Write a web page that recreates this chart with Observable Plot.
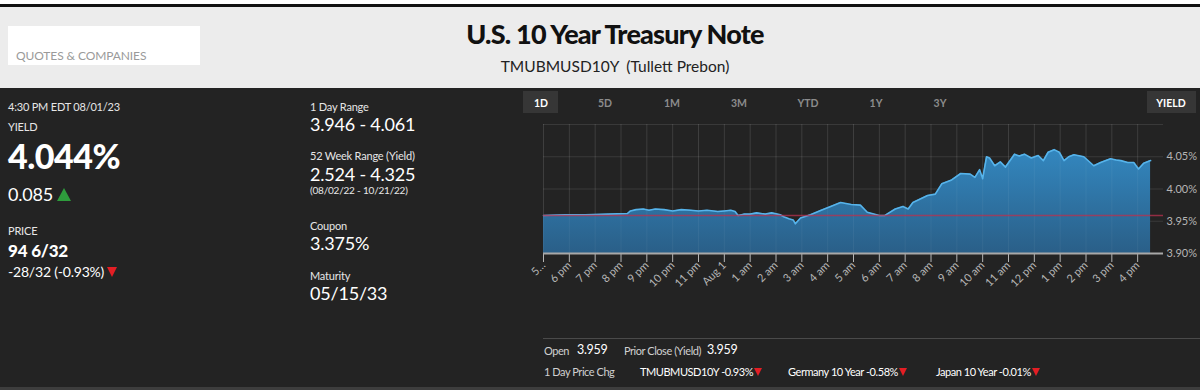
<!DOCTYPE html>
<html>
<head>
<meta charset="utf-8">
<script src="https://cdn.jsdelivr.net/npm/d3@7"></script>
<script src="https://cdn.jsdelivr.net/npm/@observablehq/plot@0.6"></script>
<style>
  html, body { margin: 0; padding: 0; }
  body { width: 1200px; height: 390px; position: relative; overflow: hidden; background: #ececec; font-family: Lato, "Noto Sans", sans-serif; }
  .abs { position: absolute; line-height: 1; white-space: nowrap; }
  #topwhite { left: 0; top: 0; width: 1200px; height: 4px; background: #fff; }
  #topblack { left: 0; top: 4px; width: 1200px; height: 3px; background: #111; }
  #qbox { left: 8px; top: 26px; width: 192px; height: 39px; background: #fff; }
  #qtext { left: 16px; top: 50px; font-size: 12px; color: #9a9a9a; letter-spacing: -0.1px; }
  #title { left: 615px; top: 20px; transform: translateX(-50%); font-size: 27px; font-weight: 900; color: #111; letter-spacing: -0.8px; }
  #subtitle { left: 615px; top: 59px; transform: translateX(-50%); font-size: 15.5px; color: #222; }
  #dark { left: 0; top: 88px; width: 1200px; height: 302px; background: #232323; }
  .lbl { font-size: 11px; color: #e6e6e6; letter-spacing: -0.2px; }
  .val { color: #fff; letter-spacing: -0.2px; }
  .btn { font-size: 10.5px; font-weight: 700; color: #8c8c8c; transform: translateX(-50%); }
  .btnbox { background: #363636; height: 22px; top: 91px; }
  .tri-up { display: inline-block; width: 0; height: 0; border-left: 7px solid transparent; border-right: 7px solid transparent; border-bottom: 13px solid #2e9c3c; vertical-align: 0px; margin-left: 4px; }
  .tri-dn { display: inline-block; width: 0; height: 0; border-left: 5px solid transparent; border-right: 5px solid transparent; border-top: 10px solid #e31e24; vertical-align: 0px; margin-left: 3px; }
  .tri-sm { display: inline-block; width: 0; height: 0; border-left: 4px solid transparent; border-right: 4px solid transparent; border-top: 8px solid #e31e24; vertical-align: 0px; margin-left: 1px; }
  #chart { position: absolute; left: 520px; top: 88px; }
  #sep { left: 543px; top: 338px; width: 657px; height: 1px; background: #4a4a4a; }
  #bottomline { left: 0; top: 387px; width: 1200px; height: 3px; background: #3d3d3d; }
  .foot { font-size: 11px; color: #d0d0d0; letter-spacing: -0.45px; }
  .footv { font-size: 12.5px; color: #fff; letter-spacing: -0.3px; }
</style>
</head>
<body>
<div class="abs" id="topwhite"></div>
<div class="abs" id="topblack"></div>
<div class="abs" id="qbox"></div>
<div class="abs" id="qtext">QUOTES &amp; COMPANIES</div>
<div class="abs" id="title">U.S. 10 Year Treasury Note</div>
<div class="abs" id="subtitle"><span style="margin-right:7px;">TMUBMUSD10Y</span>(Tullett Prebon)</div>
<div class="abs" id="dark"></div>

<!-- left column -->
<div class="abs lbl" style="left:8px;top:101px;">4:30 PM EDT 08/01/23</div>
<div class="abs lbl" style="left:8px;top:121px;">YIELD</div>
<div class="abs val" style="left:8px;top:139px;font-size:34px;font-weight:900;letter-spacing:-0.5px;">4.044%</div>
<div class="abs val" style="left:8px;top:185px;font-size:18px;">0.085<span class="tri-up"></span></div>
<div class="abs lbl" style="left:8px;top:225px;">PRICE</div>
<div class="abs val" style="left:8px;top:242px;font-size:17px;font-weight:900;">94 6/32</div>
<div class="abs val" style="left:8px;top:265px;font-size:14px;">-28/32 (-0.93%)<span class="tri-dn"></span></div>

<!-- middle column -->
<div class="abs lbl" style="left:310px;top:101px;">1 Day Range</div>
<div class="abs val" style="left:310px;top:115px;font-size:18px;">3.946 - 4.061</div>
<div class="abs lbl" style="left:310px;top:150px;">52 Week Range (Yield)</div>
<div class="abs val" style="left:310px;top:165px;font-size:18px;">2.524 - 4.325</div>
<div class="abs lbl" style="left:310px;top:185px;font-size:10px;">(08/02/22 - 10/21/22)</div>
<div class="abs lbl" style="left:310px;top:220px;">Coupon</div>
<div class="abs val" style="left:310px;top:234px;font-size:18px;">3.375%</div>
<div class="abs lbl" style="left:310px;top:270px;">Maturity</div>
<div class="abs val" style="left:310px;top:284px;font-size:18px;">05/15/33</div>

<!-- range buttons -->
<div class="abs btnbox" style="left:523px;width:35px;"></div>
<div class="abs btnbox" style="left:1147px;width:49px;"></div>
<div id="buttons"></div>

<div id="chart"></div>

<div class="abs" id="sep"></div>
<div id="footer"></div>
<div class="abs" id="bottomline"></div>

<script>
// ---- data ----
// intraday yield, 5 pm Jul 31 -> 4:30 pm Aug 1 (local market time)
const times = ["17:00","17:50","18:37","19:30","20:15","20:22","20:35","20:52","21:05","21:20","21:40","22:00","22:20","22:42","23:00","23:20","23:45","00:00","00:15","00:25","00:32","00:45","01:00","01:15","01:35","01:50","02:10","02:18","02:30","02:40","02:45","02:57","03:20","03:45","04:07","04:30","04:55","05:16","05:32","06:00","06:13","06:37","06:55","07:07","07:18","07:52","08:10","08:25","08:48","09:09","09:31","09:42","09:53","10:00","10:09","10:16","10:28","10:41","10:53","11:14","11:25","11:37","11:53","12:09","12:21","12:32","12:46","12:58","13:09","13:20","13:32","13:55","14:18","14:34","14:57","15:10","15:21","15:37","15:51","16:02","16:14","16:30"];
const yields = [3.959,3.960,3.960,3.961,3.962,3.966,3.968,3.969,3.967,3.969,3.968,3.966,3.968,3.967,3.966,3.967,3.965,3.966,3.967,3.965,3.959,3.961,3.961,3.963,3.961,3.963,3.960,3.957,3.954,3.952,3.946,3.955,3.960,3.967,3.973,3.979,3.976,3.975,3.964,3.959,3.959,3.969,3.973,3.969,3.979,3.990,3.992,4.008,4.014,4.024,4.023,4.018,4.030,4.016,4.050,4.048,4.036,4.042,4.034,4.054,4.051,4.054,4.048,4.052,4.044,4.057,4.061,4.057,4.044,4.050,4.053,4.050,4.036,4.041,4.047,4.045,4.044,4.041,4.041,4.031,4.040,4.044];
const priorClose = 3.959;
const tickLabels = ["5…","6 pm","7 pm","8 pm","9 pm","10 pm","11 pm","Aug 1","1 am","2 am","3 am","4 am","5 am","6 am","7 am","8 am","9 am","10 am","11 am","12 pm","1 pm","2 pm","3 pm","4 pm"];
const yTicks = [3.90, 3.95, 4.00, 4.05];
const yGrid = [3.95, 4.00, 4.05, 4.10];
const rangeButtons = ["1D","5D","1M","3M","YTD","1Y","3Y","YIELD"];

// hours elapsed since 5 pm of the prior day
const toHours = s => { const [h, m] = s.split(":").map(Number); return (h < 17 ? h + 24 : h) - 17 + m / 60; };
const data = times.map((t, i) => ({h: toHours(t), v: yields[i]}));
const tickHours = tickLabels.map((_, i) => i);

// buttons
const btnX = [541, 605, 672, 739, 808, 876, 940, 1171];
document.getElementById("buttons").innerHTML = rangeButtons.map((b, i) =>
  `<div class="abs btn" style="left:${btnX[i]}px;top:98px;${(i === 0 || i === 7) ? "color:#fff;" : ""}">${b}</div>`).join("");

// footer
document.getElementById("footer").innerHTML = `
  <div class="abs foot" style="left:544px;top:345px;">Open</div>
  <div class="abs footv" style="left:577px;top:344px;">3.959</div>
  <div class="abs foot" style="left:624px;top:345px;">Prior Close (Yield)</div>
  <div class="abs footv" style="left:707px;top:344px;">3.959</div>
  <div class="abs foot" style="left:544px;top:366px;">1 Day Price Chg</div>
  <div class="abs foot" style="left:640px;top:366px;color:#fff;">TMUBMUSD10Y -0.93%<span class="tri-sm"></span></div>
  <div class="abs foot" style="left:788px;top:366px;color:#fff;">Germany 10 Year -0.58%<span class="tri-sm"></span></div>
  <div class="abs foot" style="left:936px;top:366px;color:#fff;">Japan 10 Year -0.01%<span class="tri-sm"></span></div>`;

const chart = Plot.plot({
  width: 680,
  height: 250,
  marginLeft: 23,
  marginRight: 37,
  marginTop: 36,
  marginBottom: 85,
  style: {background: "transparent", color: "#b5b5b5", fontSize: "11px", fontFamily: "Lato, 'Noto Sans', sans-serif"},
  x: {type: "linear", domain: [0, 24], ticks: tickHours, tickFormat: d => tickLabels[Math.round(d)], tickRotate: -45, tickSize: 9, tickPadding: 1, label: null},
  y: {domain: [3.90, 4.10], ticks: yTicks, tickFormat: d => d.toFixed(2) + "%", tickSize: 0, tickPadding: 3, axis: "right", label: null},
  marks: [
    Plot.ruleY(yGrid, {stroke: "#ffffff", strokeOpacity: 0.1}),
    Plot.ruleX(tickHours, {y1: 3.90, y2: 4.10, stroke: "#ffffff", strokeOpacity: 0.08}),
    Plot.areaY(data, {x: "h", y1: 3.90, y2: "v", fill: "url(#areaGrad)", curve: "linear"}),
    Plot.ruleX(tickHours, {y1: 3.90, y2: 4.10, stroke: "#ffffff", strokeOpacity: 0.05}),
    Plot.lineY(data, {x: "h", y: "v", stroke: "#56b3ea", strokeWidth: 1.6}),
    Plot.ruleY([priorClose], {x1: 0, x2: 24, stroke: "#b8314f", strokeOpacity: 0.75, strokeWidth: 1.5}),
    Plot.ruleY([3.90], {x1: 0, x2: 24, stroke: "#a8a8a8", strokeWidth: 2})
  ]
});
chart.insertAdjacentHTML("afterbegin",
  `<defs><linearGradient id="areaGrad" x1="0" y1="0" x2="0" y2="1">
     <stop offset="0" stop-color="#3387bf"/>
     <stop offset="1" stop-color="#2a5f88"/>
   </linearGradient></defs>`);
document.getElementById("chart").appendChild(chart);
</script>
</body>
</html>
